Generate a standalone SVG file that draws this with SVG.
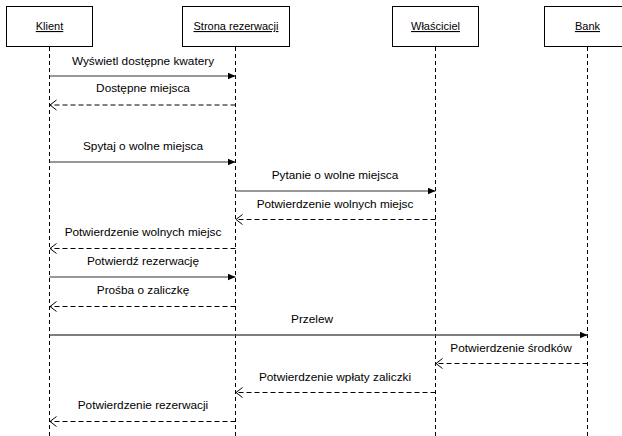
<svg xmlns="http://www.w3.org/2000/svg" width="622" height="436" viewBox="0 0 622 436">
<style>
.box{fill:#fff;stroke:#000;stroke-width:1}
.hdr{font-family:"Liberation Sans",Arial,sans-serif;font-size:11px;text-anchor:middle;text-decoration:underline;fill:#000}
.life{stroke:#000;stroke-width:1;stroke-dasharray:4 3;fill:none}
.msg{stroke:#333;stroke-width:1.2;fill:none;marker-end:url(#filled)}
.ret{stroke:#000;stroke-width:1;stroke-dasharray:5 3;fill:none}
.head{fill:none;stroke:#000;stroke-width:1}
.lbl{font-family:"Liberation Sans",Arial,sans-serif;font-size:11.8px;text-anchor:middle;fill:#000}
</style>
<defs>
<marker id="filled" viewBox="0 0 8 8" refX="8" refY="4" markerWidth="8" markerHeight="8" markerUnits="userSpaceOnUse" orient="auto">
<path d="M0,0.5 L8,4 L0,7.5 z" fill="#000"/>
</marker>
</defs>
<rect width="622" height="436" fill="#fff"/>
<g id="klient">
<rect class="box" x="6.5" y="6.5" width="86" height="40"/>
<text class="hdr" x="49.5" y="30">Klient</text>
<line class="life" x1="49.5" y1="47" x2="49.5" y2="436"/>
</g>
<g id="strona">
<rect class="box" x="182.5" y="6.5" width="107" height="40"/>
<text class="hdr" x="236" y="30">Strona rezerwacji</text>
<line class="life" x1="235.5" y1="47" x2="235.5" y2="436"/>
</g>
<g id="wlasciciel">
<rect class="box" x="392.5" y="6.5" width="86" height="40"/>
<text class="hdr" x="435.5" y="30">Właściciel</text>
<line class="life" x1="435.5" y1="47" x2="435.5" y2="436"/>
</g>
<g id="bank">
<rect class="box" x="544.5" y="6.5" width="86" height="40"/>
<text class="hdr" x="587.5" y="30">Bank</text>
<line class="life" x1="587.5" y1="47" x2="587.5" y2="436"/>
</g>
<g id="connectors">
<line class="msg" x1="49.5" y1="76" x2="235.5" y2="76"/>
<text class="lbl" x="143" y="65">Wyświetl dostępne kwatery</text>

<path class="ret" d="M235.5,105 L50,105"/>
<path class="head" d="M56.5,100 L50,105 L56.5,110"/>
<text class="lbl" x="143" y="92">Dostępne miejsca</text>

<line class="msg" x1="49.5" y1="162" x2="235.5" y2="162"/>
<text class="lbl" x="143" y="150">Spytaj o wolne miejsca</text>

<line class="msg" x1="235.5" y1="191" x2="435.5" y2="191"/>
<text class="lbl" x="335" y="179">Pytanie o wolne miejsca</text>

<path class="ret" d="M435.5,219.5 L236,219.5"/>
<path class="head" d="M242.5,214.5 L236,219.5 L242.5,224.5"/>
<text class="lbl" x="335" y="208">Potwierdzenie wolnych miejsc</text>

<path class="ret" d="M235.5,248.5 L50,248.5"/>
<path class="head" d="M56.5,243.5 L50,248.5 L56.5,253.5"/>
<text class="lbl" x="143" y="236">Potwierdzenie wolnych miejsc</text>

<line class="msg" x1="49.5" y1="277" x2="235.5" y2="277"/>
<text class="lbl" x="143" y="265">Potwierdź rezerwację</text>

<path class="ret" d="M235.5,306.5 L50,306.5"/>
<path class="head" d="M56.5,301.5 L50,306.5 L56.5,311.5"/>
<text class="lbl" x="143" y="294">Prośba o zaliczkę</text>

<line class="msg" x1="49.5" y1="335" x2="587.5" y2="335" style="stroke:#555;stroke-width:1.6"/>
<text class="lbl" x="312" y="323">Przelew</text>

<path class="ret" d="M587.5,363.5 L436,363.5"/>
<path class="head" d="M442.5,358.5 L436,363.5 L442.5,368.5"/>
<text class="lbl" x="511" y="352">Potwierdzenie środków</text>

<path class="ret" d="M435.5,392.5 L236,392.5"/>
<path class="head" d="M242.5,387.5 L236,392.5 L242.5,397.5"/>
<text class="lbl" x="335" y="381">Potwierdzenie wpłaty zaliczki</text>

<path class="ret" d="M235.5,421.5 L50,421.5"/>
<path class="head" d="M56.5,416.5 L50,421.5 L56.5,426.5"/>
<text class="lbl" x="143" y="409">Potwierdzenie rezerwacji</text>
</g>
</svg>
